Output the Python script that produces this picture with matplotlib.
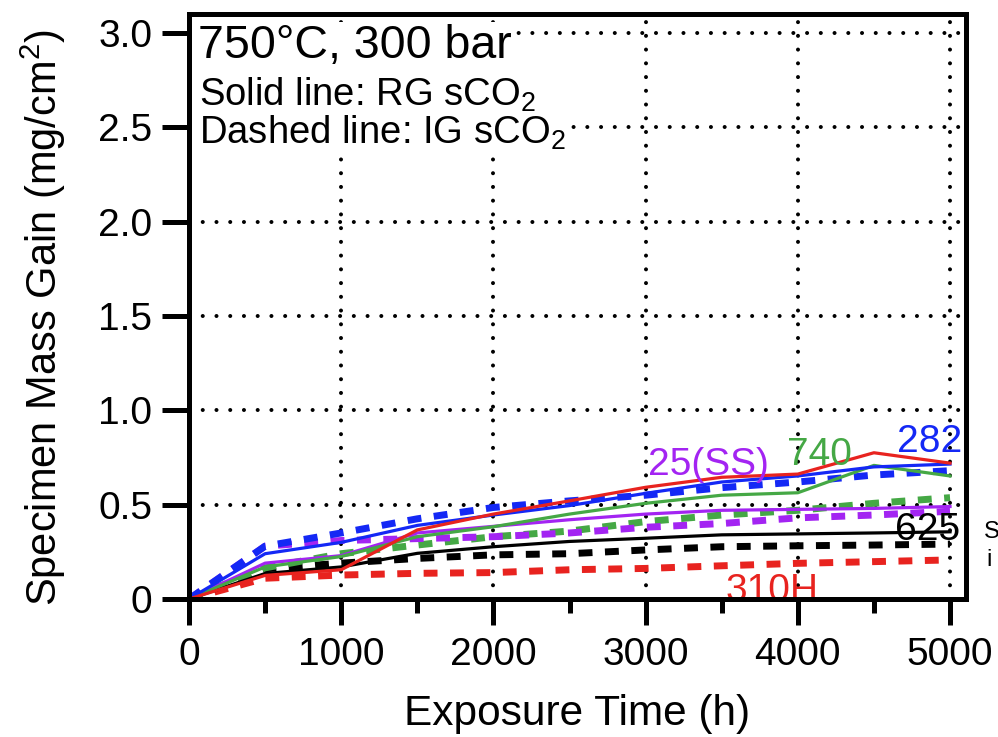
import matplotlib
matplotlib.use("Agg")
import matplotlib.pyplot as plt
from matplotlib.ticker import MultipleLocator

plt.rcParams["font.family"] = ["Liberation Sans", "DejaVu Sans"]
plt.rcParams["mathtext.fontset"] = "custom"
plt.rcParams["mathtext.rm"] = "Liberation Sans"
plt.rcParams["mathtext.it"] = "Liberation Sans:italic"
plt.rcParams["mathtext.bf"] = "Liberation Sans:bold"

# Exposure times (h)
hours = [0, 500, 1000, 1500, 2000, 2500, 3000, 3500, 4000, 4500, 5000]

# Mass gain (mg/cm^2), research-grade sCO2 (solid)
rg_282   = [0, 0.24, 0.30, 0.39, 0.445, 0.495, 0.56, 0.62, 0.652, 0.70, 0.715]
rg_740   = [0, 0.17, 0.225, 0.33, 0.383, 0.45, 0.507, 0.55, 0.563, 0.708, 0.652]
rg_25ss  = [0, 0.19, 0.23, 0.35, 0.385, 0.42, 0.45, 0.47, 0.475, 0.48, 0.49]
rg_625   = [0, 0.135, 0.17, 0.242, 0.277, 0.305, 0.322, 0.34, 0.345, 0.35, 0.356]
rg_310h  = [0, 0.125, 0.155, 0.366, 0.45, 0.52, 0.592, 0.645, 0.662, 0.775, 0.72]

# Mass gain (mg/cm^2), industrial-grade sCO2 (dashed)
ig_282   = [0, 0.28, 0.35, 0.425, 0.485, 0.52, 0.55, 0.59, 0.62, 0.657, 0.68]
ig_740   = [0, 0.165, 0.24, 0.286, 0.33, 0.36, 0.41, 0.445, 0.47, 0.507, 0.537]
ig_25ss  = [0, 0.28, 0.31, 0.32, 0.33, 0.35, 0.38, 0.40, 0.43, 0.445, 0.465]
ig_625   = [0, 0.16, 0.19, 0.215, 0.234, 0.24, 0.26, 0.277, 0.282, 0.286, 0.291]
ig_310h  = [0, 0.11, 0.127, 0.136, 0.14, 0.155, 0.162, 0.176, 0.189, 0.198, 0.207]

alloy_labels = ["282", "740", "25(SS)", "625", "310H"]
label_pos = [(4652, 0.779), (3929, 0.71), (3016, 0.657), (4638, 0.313), (3522, -0.012)]

BLUE = "#1428f5"
GREEN = "#45a845"
PURPLE = "#a324f2"
BLACK = "#000000"
RED = "#e8231f"
colors = [BLUE, GREEN, PURPLE, BLACK, RED]

fig = plt.figure(figsize=(9.98, 7.37), dpi=100)
ax = fig.add_axes([189 / 998, 1 - 599 / 737, 777 / 998, 585 / 737])

ax.set_xlim(0, 5105)
ax.set_ylim(0, 3.10)

# dotted grid
grid_kw = dict(color="black", linewidth=2.9, linestyle=(0, (0.01, 3.4)),
               dash_capstyle="round", zorder=1)
for gx in [1000, 2000, 3000, 4000, 5000]:
    ax.axvline(gx, **grid_kw)
for gy in [0.5, 1.0, 1.5, 2.0, 2.5, 3.0]:
    ax.axhline(gy, **grid_kw)

dashed = [ig_282, ig_740, ig_25ss, ig_625, ig_310h]
solid = [rg_282, rg_740, rg_25ss, rg_625, rg_310h]

# industrial-grade first, research-grade on top
for i in [4, 3, 1, 2, 0]:
    ax.plot(hours, dashed[i], color=colors[i], linewidth=5.0,
            linestyle=(0, (2.0, 1.8)), solid_capstyle="butt", zorder=2)
for i in [3, 2, 1, 0, 4]:
    ax.plot(hours, solid[i], color=colors[i], linewidth=2.3, zorder=3)

for lab, (tx, ty), c in zip(alloy_labels, label_pos, colors):
    ax.text(tx, ty, lab, color=c, fontsize=28, ha="left", va="baseline",
            clip_on=True, zorder=4)

# condition notes in the upper-left corner, on a white backing
note_box = dict(facecolor="white", edgecolor="none", pad=1.5)
ax.text(198 / 998, 1 - 58 / 737, "750°C, 300 bar", fontsize=33.5,
        ha="left", va="baseline", transform=fig.transFigure, bbox=note_box,
        zorder=5)
ax.text(199 / 998, 1 - 106 / 737, "Solid line: RG sCO$_2$", fontsize=27.5,
        ha="left", va="baseline", transform=fig.transFigure, bbox=note_box,
        zorder=5)
ax.text(199 / 998, 1 - 144 / 737, "Dashed line: IG sCO$_2$", fontsize=27.5,
        ha="left", va="baseline", transform=fig.transFigure, bbox=note_box,
        zorder=5)

for s in ax.spines.values():
    s.set_linewidth(3.6)
    s.set_zorder(6)

ax.xaxis.set_minor_locator(MultipleLocator(500))
ax.set_xticks([0, 1000, 2000, 3000, 4000, 5000])
ax.set_xticklabels(["0", "1000", "2000", "3000", "4000", "5000"])
ax.set_yticks([0, 0.5, 1.0, 1.5, 2.0, 2.5, 3.0])
ax.set_yticklabels(["0", "0.5", "1.0", "1.5", "2.0", "2.5", "3.0"])

ax.tick_params(axis="x", which="major", direction="out", length=19, width=3.6,
               labelsize=28, pad=8.6)
ax.tick_params(axis="x", which="minor", direction="out", length=10, width=3.6)
ax.tick_params(axis="y", which="major", direction="out", length=19.5, width=3.6,
               labelsize=28, pad=7)
ax.tick_params(axis="y", which="minor", left=False)

fig.text(577 / 998, 1 - 725 / 737, "Exposure Time (h)", fontsize=30.5,
         ha="center", va="baseline")
fig.text(43 / 998, 1 - 318 / 737, "Specimen Mass Gain (mg/cm$^2$)", fontsize=30,
         ha="center", va="center", rotation=90)

# letters of a neighbouring caption at the right edge
fig.text(984 / 998, 1 - 538 / 737, "S", fontsize=17, ha="left", va="baseline")
fig.text(986 / 998, 1 - 566 / 737, "i", fontsize=17, ha="left", va="baseline")

fig.savefig("out.png", dpi=100)
